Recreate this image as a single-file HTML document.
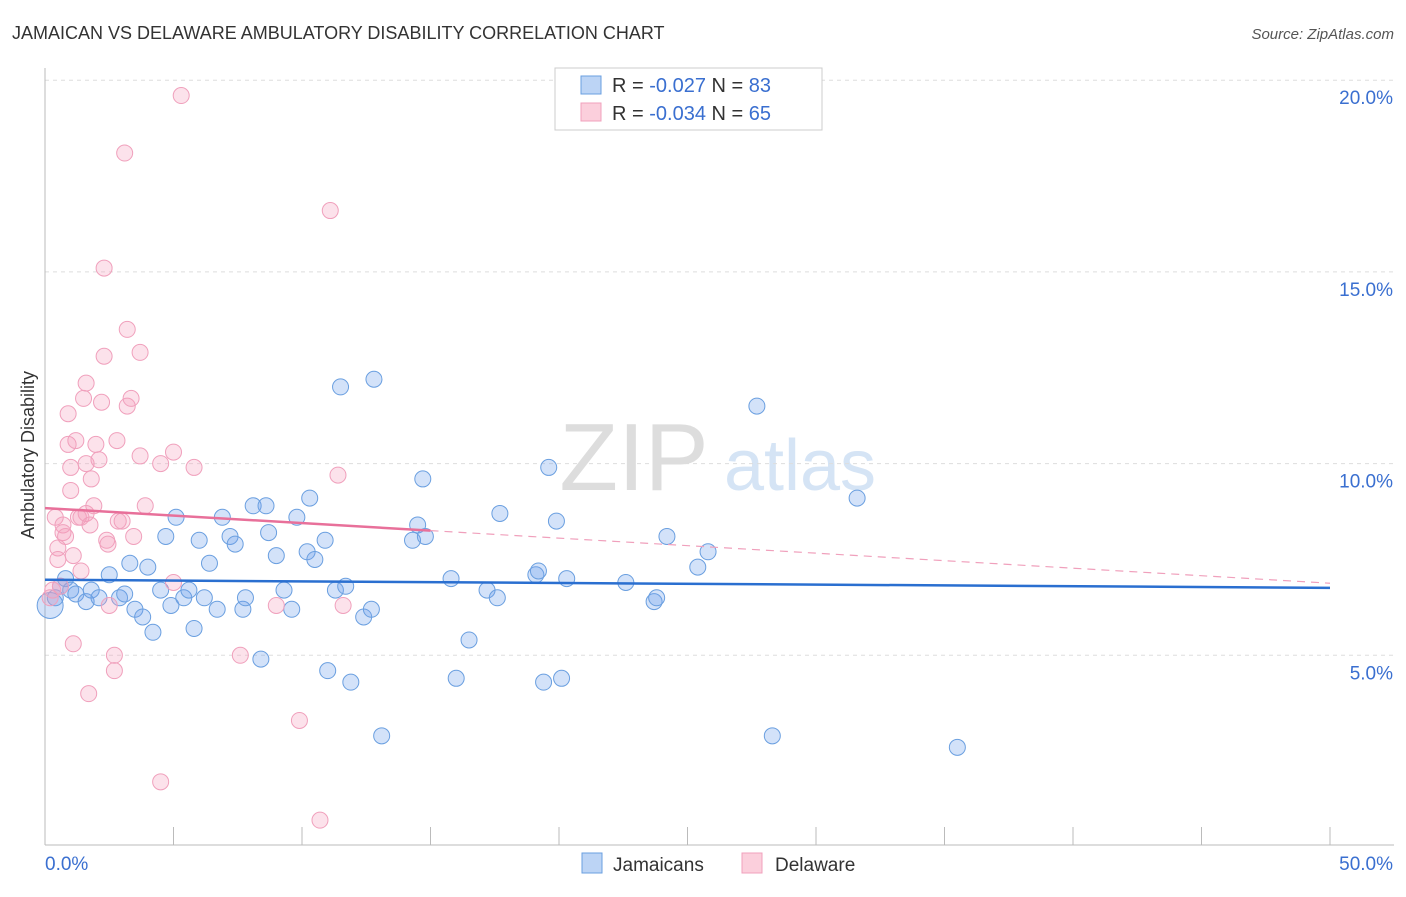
<!DOCTYPE html>
<html><head><meta charset="utf-8"><style>
body{margin:0;background:#fff;font-family:"Liberation Sans",sans-serif;}
svg text{font-family:"Liberation Sans",sans-serif;}
</style></head><body>
<svg id="chart" width="1406" height="892" viewBox="0 0 1406 892" xmlns="http://www.w3.org/2000/svg">
<text x="12" y="39" font-size="18" fill="#333">JAMAICAN VS DELAWARE AMBULATORY DISABILITY CORRELATION CHART</text>
<text x="1394" y="39" font-size="15" fill="#555" font-style="italic" text-anchor="end">Source: ZipAtlas.com</text>
<g>
<text x="634" y="490" font-size="96" fill="#ddd" font-family="Liberation Serif,serif" text-anchor="middle">ZIP</text>
<text x="800" y="490" font-size="72" fill="#d5e4f5" text-anchor="middle">atlas</text>
</g>
<g id="grid"></g>
<g id="axes"></g>
<g id="marks"></g>
<text transform="translate(34,455) rotate(-90)" font-size="18" fill="#333" text-anchor="middle">Ambulatory Disability</text>
<g>
<rect x="555" y="68" width="267" height="62" fill="#fff" stroke="#ccc"/>
<rect x="581" y="76" width="20" height="18" fill="#bcd4f5" stroke="#6a9fe0"/>
<text x="612" y="92" font-size="20" fill="#333">R = <tspan fill="#3a6fd0">-0.027</tspan>   N = <tspan fill="#3a6fd0">83</tspan></text>
<rect x="581" y="103" width="20" height="18" fill="#fbcfdc" stroke="#f0a0bc"/>
<text x="612" y="120" font-size="20" fill="#333">R = <tspan fill="#3a6fd0">-0.034</tspan>   N = <tspan fill="#3a6fd0">65</tspan></text>
</g>
<g>
<rect x="582" y="853" width="20" height="20" fill="#bcd4f5" stroke="#6a9fe0"/>
<text x="613" y="871" font-size="19" fill="#333">Jamaicans</text>
<rect x="742" y="853" width="20" height="20" fill="#fbcfdc" stroke="#f0a0bc"/>
<text x="775" y="871" font-size="19" fill="#333">Delaware</text>
</g>
</svg>
<script>
const yTicks=[5,10,15,20];
const xTickLabels=["0.0%","50.0%"];
const blueX=[0.2,0.4,0.6,0.8,1,1.2,1.6,1.8,2.1,2.5,2.9,3.1,3.3,3.5,3.8,4,4.2,4.5,4.7,4.9,5.1,5.4,5.6,5.8,6,6.2,6.4,6.7,6.9,7.2,7.4,7.7,7.8,8.1,8.4,8.6,8.7,9,9.3,9.6,9.8,10.2,10.3,10.5,10.9,11,11.3,11.5,11.7,11.9,12.4,12.7,12.8,13.1,14.3,14.5,14.7,14.8,15.8,16,16.5,17.2,17.6,17.7,19.1,19.2,19.4,19.6,19.9,20.1,20.3,22.6,23.7,23.8,24.2,25.4,25.8,27.7,28.3,31.6,35.5];
const blueY=[6.3,6.5,6.8,7,6.7,6.6,6.4,6.7,6.5,7.1,6.5,6.6,7.4,6.2,6,7.3,5.6,6.7,8.1,6.3,8.6,6.5,6.7,5.7,8,6.5,7.4,6.2,8.6,8.1,7.9,6.2,6.5,8.9,4.9,8.9,8.2,7.6,6.7,6.2,8.6,7.7,9.1,7.5,8.0,4.6,6.7,12.0,6.8,4.3,6.0,6.2,12.2,2.9,8.0,8.4,9.6,8.1,7.0,4.4,5.4,6.7,6.5,8.7,7.1,7.2,4.3,9.9,8.5,4.4,7.0,6.9,6.4,6.5,8.1,7.3,7.7,11.5,2.9,9.1,2.6];
const pinkX=[0.2,0.3,0.4,0.5,0.5,0.6,0.7,0.7,0.8,0.9,0.9,1,1,1.1,1.1,1.2,1.3,1.4,1.4,1.5,1.6,1.6,1.6,1.7,1.75,1.8,1.9,1.98,2.1,2.2,2.3,2.3,2.4,2.45,2.5,2.7,2.7,2.8,2.85,3,3.1,3.2,3.2,3.35,3.45,3.7,3.7,3.9,4.5,4.5,5,5,5.3,5.8,7.6,9,9.9,10.7,11.1,11.4,11.6];
const pinkY=[6.5,6.7,8.6,7.8,7.5,6.8,8.4,8.2,8.1,11.3,10.5,9.9,9.3,7.6,5.3,10.6,8.6,7.2,8.6,11.7,8.7,12.1,10.0,4.0,8.4,9.6,8.9,10.5,10.1,11.6,12.8,15.1,8.0,7.9,6.3,5.0,4.6,10.6,8.5,8.5,18.1,11.5,13.5,11.7,8.1,10.2,12.9,8.9,1.7,10.0,10.3,6.9,19.6,9.9,5.0,6.3,3.3,0.7,16.6,9.7,6.3];
const blueTrend=[6.97,6.76];
const pinkTrend=[8.84,6.88];
const pinkSolidEnd=15;
const NS="http://www.w3.org/2000/svg";
const X0=45,X1=1330,Y0=847,YPX=38.34;
const sx=v=>X0+(v/50)*(X1-X0);
const sy=v=>Y0-v*YPX;
function mk(tag,attrs,parent){const e=document.createElementNS(NS,tag);for(const k in attrs)e.setAttribute(k,attrs[k]);parent.appendChild(e);return e;}
const grid=document.getElementById('grid'),axes=document.getElementById('axes'),marks=document.getElementById('marks');
yTicks.forEach(t=>{
 const l=mk('line',{x1:X0,x2:1394,y1:sy(t),y2:sy(t),stroke:'#ddd','stroke-dasharray':'4,4'},grid);
 
 
 const tx=mk('text',{x:1393,y:sy(t)+24,'font-size':19,fill:'#3a6fd0','text-anchor':'end'},axes);
 tx.textContent=t.toFixed(1)+'%';
 
 
});
const ax=mk('line',{x1:X0,x2:1394,y1:845,y2:845,stroke:'#bbb'},axes);


const ay=mk('line',{x1:X0,x2:X0,y1:68,y2:845,stroke:'#bbb'},axes);


for(let i=0;i<=10;i++){
 const t=mk('line',{x1:sx(i*5),x2:sx(i*5),y1:827,y2:845,stroke:'#bbb'},axes);
 
 
}
[[0,'start',45],[50,'end',1393]].forEach((d,i)=>{
 const t=mk('text',{x:d[2],y:870,'font-size':19,fill:'#3a6fd0','text-anchor':d[1]},axes);
 t.textContent=xTickLabels[i];
 
 
});
blueX.forEach((x,i)=>{
 const c=mk('circle',{cx:sx(x),cy:sy(blueY[i]),r:i===0?13:8,fill:'rgba(110,160,235,0.3)',stroke:'#6a9fe0','stroke-width':1},marks);
 
 
});
pinkX.forEach((x,i)=>{
 const c=mk('circle',{cx:sx(x),cy:sy(pinkY[i]),r:8,fill:'rgba(245,160,190,0.3)',stroke:'#f0a0bc','stroke-width':1},marks);
 
 
});
const bt=mk('line',{x1:sx(0),y1:sy(blueTrend[0]),x2:sx(50),y2:sy(blueTrend[1]),stroke:'#2a6fd0','stroke-width':2.5},marks);


const pAt=x=>pinkTrend[0]+(pinkTrend[1]-pinkTrend[0])*x/50;
const ps=mk('line',{x1:sx(0),y1:sy(pinkTrend[0]),x2:sx(pinkSolidEnd),y2:sy(pAt(pinkSolidEnd)),stroke:'#e8709a','stroke-width':2.5},marks);


const pd=mk('line',{x1:sx(pinkSolidEnd),y1:sy(pAt(pinkSolidEnd)),x2:sx(50),y2:sy(pinkTrend[1]),stroke:'#f0a0bc','stroke-width':1.2,'stroke-dasharray':'8,6'},marks);


</script>
</body></html>
